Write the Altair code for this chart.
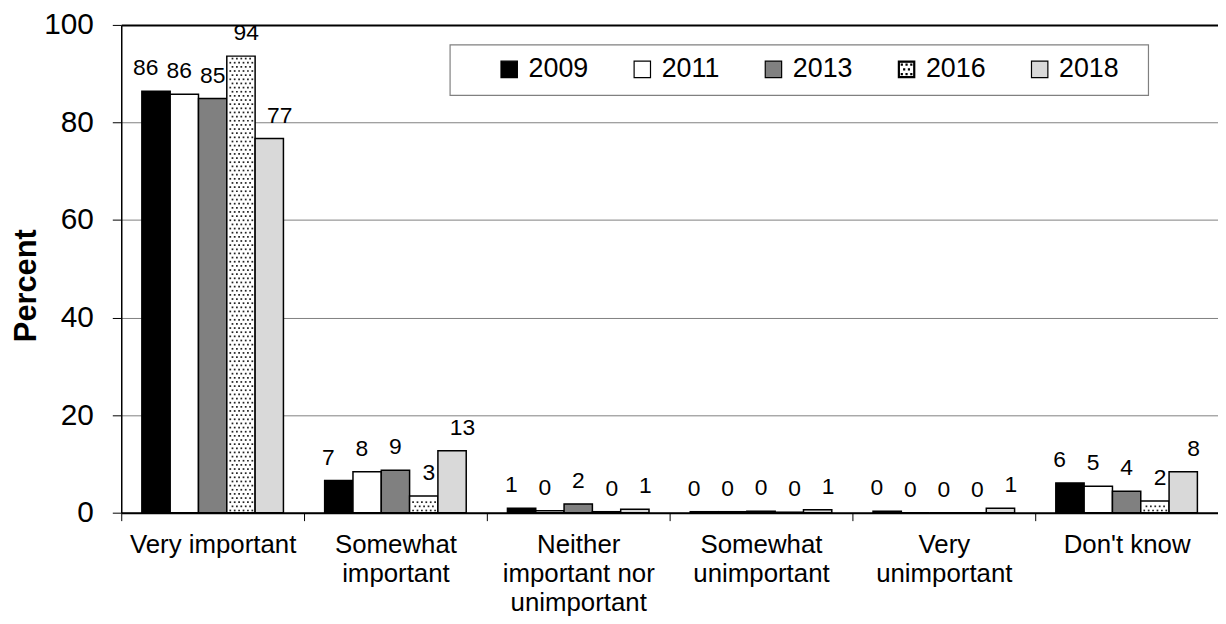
import altair as alt
import pandas as pd

FONT = "Liberation Sans"

categories = ["Very important", "Somewhat\nimportant", "Neither\nimportant nor\nunimportant",
              "Somewhat\nunimportant", "Very\nunimportant", "Don't know"]
years = ["2009", "2011", "2013", "2016", "2018"]
v2009 = [86.4, 6.6, 0.9, 0.2, 0.3, 6.1]
v2011 = [85.8, 8.4, 0.4, 0.2, 0.0, 5.4]
v2013 = [84.9, 8.7, 1.8, 0.3, 0.0, 4.4]
v2016 = [93.6, 3.4, 0.2, 0.1, 0.0, 2.4]
v2018 = [76.7, 12.7, 0.7, 0.6, 0.9, 8.4]
series = {"2009": v2009, "2011": v2011, "2013": v2013, "2016": v2016, "2018": v2018}

fills = ["black", "white", "#808080", "white", "#d9d9d9"]
legend_fills = ["black", "white", "#808080", "black", "#d9d9d9"]

rows = []
for y in years:
    for c, v in zip(categories, series[y]):
        rows.append({"cat": c, "year": y, "value": v})
df = pd.DataFrame(rows)

# dotted fill pattern for the 2016 bars (style only, derived from the 2016 values)
SUB = 13
N_SLOTS = 83
SLOT_PAD = 0.465
FIRST = 9
slots = [f"s{n}" for n in range(N_SLOTS)]
bar_idx = years.index("2016")
dot_rows = []
for c, v in zip(categories, v2016):
    k = 0
    while 0.45 + 0.85 * k <= v - 0.45:
        yy = 0.45 + 0.85 * k
        subs = [1, 3, 5, 7, 9, 11] if k % 2 == 0 else [2, 4, 6, 8, 10]
        for s in subs:
            dot_rows.append({"cat": c, "slot": f"s{FIRST + bar_idx * SUB + s}", "value": yy})
        k += 1
dots_df = pd.DataFrame(dot_rows)

# legend symbol for 2016: square ring with dots
d = 0.06
dot_path = ""
for (px, py) in [(-0.58, -0.58), (0.0, -0.58), (0.58, -0.58), (-0.29, 0.0), (0.29, 0.0),
                 (-0.58, 0.58), (0.0, 0.58), (0.58, 0.58)]:
    dot_path += f"M{px-d:.2f},{py-d:.2f}H{px+d:.2f}V{py+d:.2f}H{px-d:.2f}Z"
DOTTED = "M-1,-1H1V1H-1Z M-0.88,-0.88V0.88H0.88V-0.88Z " + dot_path
shapes = ["square", "square", "square", DOTTED, "square"]

PO = 0.728
x_enc = alt.X("cat:N", sort=categories,
              scale=alt.Scale(domain=categories, paddingInner=0, paddingOuter=0),
              axis=alt.Axis(title=None, labelAngle=0, labelFontSize=26, labelFont=FONT,
                            labelColor="black", labelLineHeight=29, labelPadding=11,
                            labelBaseline="top", labelAlign="center",
                            labelExpr="split(datum.label, '\\n')", labelLimit=0,
                            tickBand="extent", tickSize=8, tickColor="black", tickWidth=1,
                            domainColor="black", domainWidth=2, grid=False))
y_enc = alt.Y("value:Q", scale=alt.Scale(domain=[0, 100], nice=False),
              axis=alt.Axis(values=[0, 20, 40, 60, 80, 100], title="Percent",
                            titleFontSize=31, titleFontWeight="bold", titleFont=FONT,
                            titleColor="black", titleAngle=270, titleX=-95, titleY=262,
                            titleAlign="center", titleBaseline="middle",
                            labelFontSize=30, labelFont=FONT, labelColor="black",
                            labelPadding=19, tickSize=9, tickColor="black", tickWidth=1,
                            domainColor="black", domainWidth=1.5, grid=True,
                            gridColor={"condition": {"test": "datum.value === 100", "value": "black"},
                                       "value": "#808080"},
                            gridWidth={"condition": {"test": "datum.value === 100", "value": 2},
                                       "value": 1}))
xoff = alt.XOffset("year:N", sort=years,
                   scale=alt.Scale(domain=years, paddingInner=0, paddingOuter=PO))

base = alt.Chart(df)

bars = base.mark_bar(stroke="black", strokeWidth=1.5).encode(
    x=x_enc, xOffset=xoff, y=y_enc,
    color=alt.Color("year:N", scale=alt.Scale(domain=years, range=fills), legend=None),
)

dots = alt.Chart(dots_df).mark_square(size=3, color="#222222", opacity=1).encode(
    x=x_enc,
    xOffset=alt.XOffset("slot:N", sort=slots,
                        scale=alt.Scale(domain=slots, paddingInner=0, paddingOuter=SLOT_PAD)),
    y=y_enc,
)

labels = base.mark_text(baseline="alphabetic", dy=-16, fontSize=23, font=FONT, color="black").encode(
    x=x_enc, xOffset=xoff, y=y_enc, text=alt.Text("value:Q", format=".0f"),
)

leg_props = dict(orient="none", legendX=377, legendY=31, direction="horizontal", columns=5,
                 columnPadding=40, symbolSize=272, symbolStrokeWidth=1.2, symbolOpacity=1,
                 labelFontSize=27, labelFont=FONT, labelColor="black", labelOffset=6,
                 title=None, padding=0)
leg = alt.Chart(df).transform_filter("false").mark_point(filled=True, strokeWidth=1.2).encode(
    fill=alt.Fill("year:N", scale=alt.Scale(domain=years, range=legend_fills),
                  legend=alt.Legend(**leg_props)),
    stroke=alt.Stroke("year:N", scale=alt.Scale(domain=years, range=["black"] * 5),
                      legend=alt.Legend(**leg_props)),
    shape=alt.Shape("year:N", scale=alt.Scale(domain=years, range=shapes),
                    legend=alt.Legend(**leg_props)),
)

box = alt.Chart(pd.DataFrame({"k": [0]})).mark_rect(fill="white", stroke="#808080", strokeWidth=1.2).encode(
    x=alt.value(331), x2=alt.value(1034), y=alt.value(20), y2=alt.value(71)
)

chart = alt.layer(box, bars, dots, labels, leg).resolve_scale(
    xOffset="independent", color="independent"
).properties(
    width=1104, height=491,
    autosize=alt.AutoSizeParams(type="none"),
    padding={"left": 114, "top": 15, "right": 0, "bottom": 106},
    background="white",
).configure_view(strokeWidth=0)

chart.save("out.html", embed_options={"renderer": "svg", "actions": False})
